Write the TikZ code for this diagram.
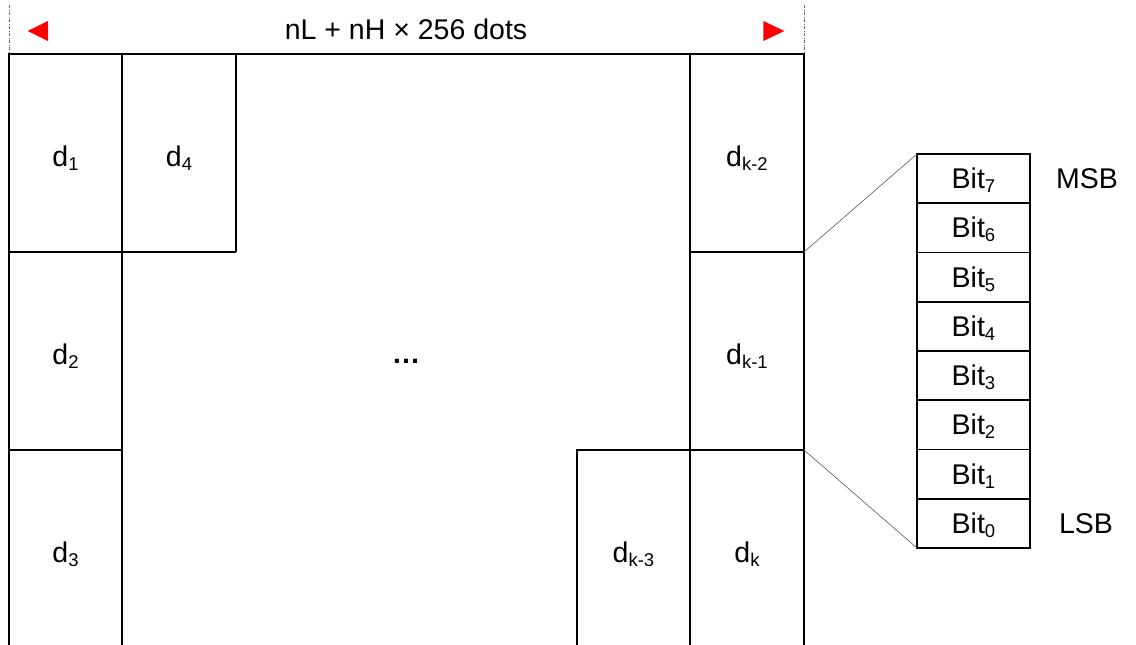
\documentclass[tikz,border=0pt]{standalone}
\usepackage{fontspec}
\setmainfont{Liberation Sans}
\newcommand\sbs[1]{\raisebox{-4pt}{\fontsize{18.5}{18.5}\selectfont #1}}
\begin{document}
\begin{tikzpicture}[x=1pt,y=-1pt,
  grid/.style={line width=1.7pt, line cap=butt, line join=miter},
  lab/.style={font=\fontsize{28.5}{34}\selectfont, inner sep=0pt, text height=20pt, text depth=0pt},
  bitcell/.style={draw, line width=1.7pt, minimum width=113pt, minimum height=49.25pt, inner sep=0pt, outer sep=0pt, lab},
  guide/.style={black!60, line width=0.9pt, dash pattern=on 3pt off 1.5pt on 1pt off 1.5pt},
  zoomline/.style={gray!70!black, line width=0.6pt}]
\useasboundingbox (0,0) rectangle (1136,645);
% guides and arrows
\draw[guide] (9,5) -- (9,54);
\draw[guide] (804,5) -- (804,54);
\fill[red] (27.7,31) -- (48,21) -- (48,41) -- cycle;
\fill[red] (784.3,31) -- (763.3,21) -- (763.3,41) -- cycle;
\node[lab] (title) at (406,29.5) {nL + nH × 256 dots};
% grid
\draw[grid] (9,645) -- (9,54) -- (804,54) -- (804,645);
\draw[grid] (122,54) -- (122,645);
\draw[grid] (236,54) -- (236,252);
\draw[grid] (690,54) -- (690,645);
\draw[grid] (577,645) -- (577,450) -- (804,450);
\draw[grid] (9,252) -- (236,252);
\draw[grid] (690,252) -- (804,252);
\draw[grid] (9,450) -- (122,450);
% cell labels
\node[lab] (d1) at (65.5,156) {d\sbs{1}};
\node[lab] (d4) at (179,156) {d\sbs{4}};
\node[lab] (dk2) at (747,156) {d\sbs{k-2}};
\node[lab] (d2) at (65.5,354) {d\sbs{2}};
\node[lab] (dots) at (406,353) {\bfseries …};
\node[lab] (dk1) at (747,354) {d\sbs{k-1}};
\node[lab] (d3) at (65.5,552) {d\sbs{3}};
\node[lab] (dk3) at (633.5,552) {d\sbs{k-3}};
\node[lab] (dk) at (747,552) {d\sbs{k}};
% bit column
\node[bitcell] (b7) at (973.5,178.625) {Bit\sbs{7}};
\node[bitcell] (b6) at (973.5,227.875) {Bit\sbs{6}};
\node[bitcell] (b5) at (973.5,277.125) {Bit\sbs{5}};
\node[bitcell] (b4) at (973.5,326.375) {Bit\sbs{4}};
\node[bitcell] (b3) at (973.5,375.625) {Bit\sbs{3}};
\node[bitcell] (b2) at (973.5,424.875) {Bit\sbs{2}};
\node[bitcell] (b1) at (973.5,474.125) {Bit\sbs{1}};
\node[bitcell] (b0) at (973.5,523.375) {Bit\sbs{0}};
\node[lab] (msb) at (1087,178.625) {MSB};
\node[lab] (lsb) at (1086,523.375) {LSB};
% zoom lines
\coordinate (g1) at (804,252);
\coordinate (g2) at (804,450);
\draw[zoomline] (g1) -- (b7.north west);
\draw[zoomline] (g2) -- (b0.south west);
\end{tikzpicture}
\end{document}
